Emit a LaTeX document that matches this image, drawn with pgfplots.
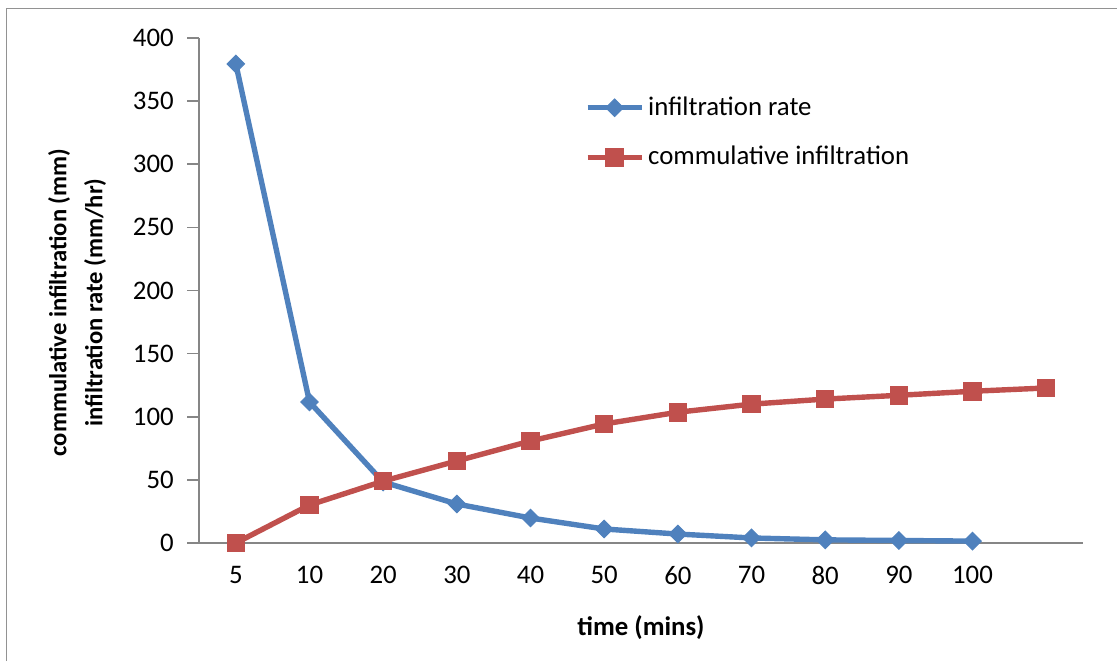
\documentclass[border=0pt]{standalone}
\usepackage{pgfplots}
\pgfplotsset{compat=1.18}
\usepackage{fontspec}
\setmainfont{Carlito}
\definecolor{sblue}{HTML}{4F81BD}
\definecolor{sred}{HTML}{C0504D}
\definecolor{axgray}{HTML}{868686}
\begin{document}
\fontsize{13.4pt}{16pt}\selectfont
\begin{tikzpicture}
\path[use as bounding box] (0,0) rectangle (558.5pt,330.5pt);
\draw[color=axgray!90, line width=0.8pt] (3.3pt,0) -- (3.3pt,326.3pt) -- (558.5pt,326.3pt);
\begin{axis}[
  at={(99.5pt,59pt)}, anchor=south west,
  scale only axis, width=442pt, height=252.5pt,
  xmin=-0.5, xmax=11.5, ymin=0, ymax=400,
  xtick={0,...,10}, xticklabels={5,10,20,30,40,50,60,70,80,90,100},
  ytick={0,50,...,400},
  axis x line*=bottom, axis y line*=left,
  axis line style={color=axgray, line width=0.8pt, -},
  major tick length=6pt,
  tick align=outside,
  xtick style={draw=none},
  ytick style={color=axgray, line width=0.8pt},
  /pgf/number format/assume math mode=true,
  tick label style={font=\fontsize{13.4pt}{16pt}\selectfont},
  yticklabel style={xshift=-2pt},
  xticklabel style={yshift=-1pt},
  xlabel={\textbf{time (mins)}},
  xlabel style={yshift=-6pt, font=\fontsize{13.4pt}{16pt}\selectfont},
  ylabel={\textbf{\begin{tabular}{c}commulative infiltration (mm)\\[2.5pt]infiltration rate (mm/hr)\end{tabular}}},
  ylabel style={yshift=1.5pt, xshift=-6pt, font=\fontsize{12.3pt}{15.5pt}\selectfont},
  legend style={at={(0.436,0.893)}, anchor=north west, draw=none, fill=none,
    row sep=9.5pt, font=\fontsize{13.4pt}{16pt}\selectfont, inner sep=0pt,
    /tikz/every even column/.append style={column sep=0pt}},
  legend cell align=left,
  legend image code/.code={
    \draw[#1, mark repeat=2, mark phase=2] plot coordinates {(0pt,0pt) (13.5pt,0pt) (27pt,0pt)};
  },
  clip=false,
]
\addplot[color=sblue, line width=2.7pt, mark=square*, mark size=3.1pt,
  mark options={rotate=45, solid, fill=sblue, line width=0.5pt}]
  coordinates {(0,379.5) (1,111.7) (2,48.3) (3,30.9) (4,19.8) (5,11.1) (6,7.1) (7,4) (8,2.5) (9,2) (10,1.5)};
\addlegendentry{infiltration rate}
\addplot[color=sred, line width=2.7pt, mark=square*, mark size=4.4pt,
  mark options={solid, fill=sred, line width=0.5pt}]
  coordinates {(0,0) (1,30.1) (2,49) (3,65) (4,80.8) (5,94.3) (6,103.6) (7,110) (8,114) (9,117) (10,120.2) (11,122.8)};
\addlegendentry{commulative infiltration}
\end{axis}
\end{tikzpicture}
\end{document}
